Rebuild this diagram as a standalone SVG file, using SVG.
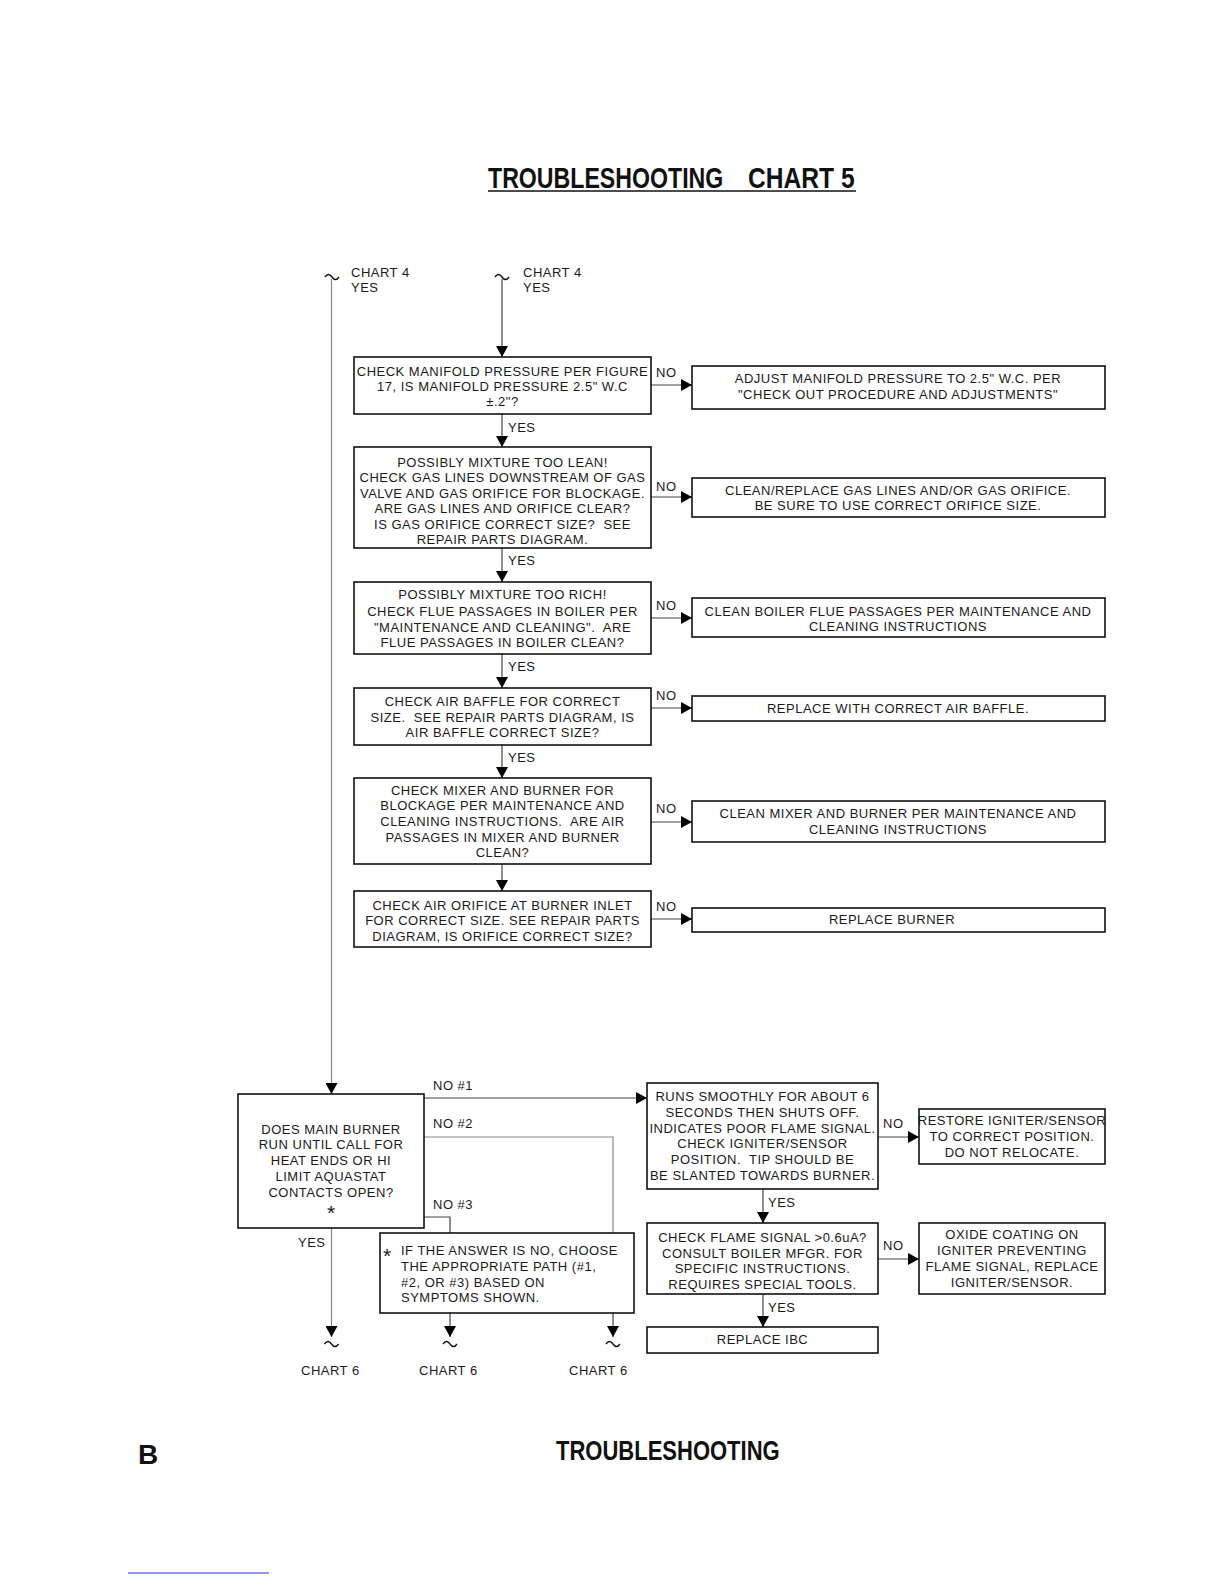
<svg xmlns="http://www.w3.org/2000/svg" width="1224" height="1584" viewBox="0 0 1224 1584">
<style>
text{white-space:pre}
.t{font-family:"Liberation Sans",Arial,sans-serif;font-size:13px;letter-spacing:0.5px;fill:#1a1a1a}
.c{text-anchor:middle}
.ast{font-size:21px;letter-spacing:0}
.box{fill:#fff;stroke:#111;stroke-width:1.6}
.ln{fill:none;stroke:#444;stroke-width:1.2}
.lg{fill:none;stroke:#888;stroke-width:1.2}
.til{fill:none;stroke:#111;stroke-width:1.4}
.hd{font-family:"Liberation Sans",Arial,sans-serif;font-weight:bold;fill:#111}
</style>
<defs>
<marker id="ah" viewBox="0 0 11 12" refX="11" refY="6" markerWidth="11" markerHeight="12" markerUnits="userSpaceOnUse" orient="auto">
<path d="M0,0 L11,6 L0,12 z" fill="#000"/>
</marker>
</defs>
<rect width="1224" height="1584" fill="#fff"/>

<g id="title">
<text class="hd" transform="translate(488,188) scale(0.772,1)" x="0" y="0" font-size="30">TROUBLESHOOTING</text>
<text class="hd" transform="translate(748,188) scale(0.82,1)" x="0" y="0" font-size="30">CHART 5</text>
<line x1="488" y1="191" x2="856" y2="191" stroke="#111" stroke-width="1.5"/>
</g>

<g id="connectors">
<path class="til" d="M325,277 q3.5,-5 7,0 t7,0"/>
<path class="til" d="M495,277 q3.5,-5 7,0 t7,0"/>
<line class="lg" x1="331.5" y1="279" x2="331.5" y2="1094" marker-end="url(#ah)"/>
<line class="ln" x1="502" y1="279" x2="502" y2="357" marker-end="url(#ah)"/>
<line class="ln" x1="502" y1="414" x2="502" y2="447" marker-end="url(#ah)"/>
<line class="ln" x1="502" y1="548" x2="502" y2="582" marker-end="url(#ah)"/>
<line class="ln" x1="502" y1="654" x2="502" y2="688" marker-end="url(#ah)"/>
<line class="ln" x1="502" y1="745" x2="502" y2="778" marker-end="url(#ah)"/>
<line class="ln" x1="502" y1="864" x2="502" y2="891" marker-end="url(#ah)"/>
<line class="ln" x1="651" y1="385" x2="692" y2="385" marker-end="url(#ah)"/>
<line class="ln" x1="651" y1="497" x2="692" y2="497" marker-end="url(#ah)"/>
<line class="ln" x1="651" y1="618" x2="692" y2="618" marker-end="url(#ah)"/>
<line class="ln" x1="651" y1="708" x2="692" y2="708" marker-end="url(#ah)"/>
<line class="ln" x1="651" y1="822" x2="692" y2="822" marker-end="url(#ah)"/>
<line class="ln" x1="651" y1="919" x2="692" y2="919" marker-end="url(#ah)"/>
<line class="ln" x1="424" y1="1098" x2="647" y2="1098" marker-end="url(#ah)"/>
<polyline class="lg" points="424,1137 613,1137 613,1233"/>
<polyline class="ln" points="424,1217 450,1217 450,1233"/>
<line class="lg" x1="331.5" y1="1228" x2="331.5" y2="1337" marker-end="url(#ah)"/>
<line class="ln" x1="450" y1="1313" x2="450" y2="1337" marker-end="url(#ah)"/>
<line class="ln" x1="613" y1="1313" x2="613" y2="1337" marker-end="url(#ah)"/>
<path class="til" d="M324.5,1344 q3.5,-5 7,0 t7,0"/>
<path class="til" d="M443,1344 q3.5,-5 7,0 t7,0"/>
<path class="til" d="M606,1344 q3.5,-5 7,0 t7,0"/>
<line class="ln" x1="763" y1="1189" x2="763" y2="1223" marker-end="url(#ah)"/>
<line class="ln" x1="763" y1="1294" x2="763" y2="1327" marker-end="url(#ah)"/>
<line class="ln" x1="878" y1="1137" x2="919" y2="1137" marker-end="url(#ah)"/>
<line class="ln" x1="878" y1="1259" x2="919" y2="1259" marker-end="url(#ah)"/>
</g>

<g id="labels">
<text class="t" x="351" y="277">CHART 4</text>
<text class="t" x="351" y="292">YES</text>
<text class="t" x="523" y="277">CHART 4</text>
<text class="t" x="523" y="292">YES</text>
<text class="t" x="508" y="432">YES</text>
<text class="t" x="508" y="565">YES</text>
<text class="t" x="508" y="671">YES</text>
<text class="t" x="508" y="762">YES</text>
<text class="t" x="656" y="377">NO</text>
<text class="t" x="656" y="491">NO</text>
<text class="t" x="656" y="610">NO</text>
<text class="t" x="656" y="700">NO</text>
<text class="t" x="656" y="813">NO</text>
<text class="t" x="656" y="911">NO</text>
<text class="t" x="433" y="1090">NO #1</text>
<text class="t" x="433" y="1128">NO #2</text>
<text class="t" x="433" y="1209">NO #3</text>
<text class="t" x="298" y="1247">YES</text>
<text class="t" x="883" y="1128">NO</text>
<text class="t" x="883" y="1250">NO</text>
<text class="t" x="768" y="1207">YES</text>
<text class="t" x="768" y="1312">YES</text>
<text class="t" x="301" y="1375">CHART 6</text>
<text class="t" x="419" y="1375">CHART 6</text>
<text class="t" x="569" y="1375">CHART 6</text>
</g>

<g id="q1">
<rect class="box" x="354" y="357" width="297" height="57"/>
<text class="t c" x="502.5" y="376">CHECK MANIFOLD PRESSURE PER FIGURE</text>
<text class="t c" x="502.5" y="391">17, IS MANIFOLD PRESSURE 2.5" W.C</text>
<text class="t c" x="502.5" y="406">±.2"?</text>
</g>
<g id="a1">
<rect class="box" x="692" y="366" width="413" height="43"/>
<text class="t c" x="898" y="383">ADJUST MANIFOLD PRESSURE TO 2.5" W.C. PER</text>
<text class="t c" x="898" y="399">"CHECK OUT PROCEDURE AND ADJUSTMENTS"</text>
</g>

<g id="q2">
<rect class="box" x="354" y="447" width="297" height="101"/>
<text class="t c" x="502.5" y="467">POSSIBLY MIXTURE TOO LEAN!</text>
<text class="t c" x="502.5" y="482">CHECK GAS LINES DOWNSTREAM OF GAS</text>
<text class="t c" x="502.5" y="498">VALVE AND GAS ORIFICE FOR BLOCKAGE.</text>
<text class="t c" x="502.5" y="513">ARE GAS LINES AND ORIFICE CLEAR?</text>
<text class="t c" x="502.5" y="529">IS GAS ORIFICE CORRECT SIZE?  SEE</text>
<text class="t c" x="502.5" y="544">REPAIR PARTS DIAGRAM.</text>
</g>
<g id="a2">
<rect class="box" x="692" y="478" width="413" height="39"/>
<text class="t c" x="898" y="495">CLEAN/REPLACE GAS LINES AND/OR GAS ORIFICE.</text>
<text class="t c" x="898" y="510">BE SURE TO USE CORRECT ORIFICE SIZE.</text>
</g>

<g id="q3">
<rect class="box" x="354" y="582" width="297" height="72"/>
<text class="t c" x="502.5" y="599">POSSIBLY MIXTURE TOO RICH!</text>
<text class="t c" x="502.5" y="616">CHECK FLUE PASSAGES IN BOILER PER</text>
<text class="t c" x="502.5" y="632">"MAINTENANCE AND CLEANING".  ARE</text>
<text class="t c" x="502.5" y="647">FLUE PASSAGES IN BOILER CLEAN?</text>
</g>
<g id="a3">
<rect class="box" x="692" y="598" width="413" height="39"/>
<text class="t c" x="898" y="616">CLEAN BOILER FLUE PASSAGES PER MAINTENANCE AND</text>
<text class="t c" x="898" y="631">CLEANING INSTRUCTIONS</text>
</g>

<g id="q4">
<rect class="box" x="354" y="688" width="297" height="57"/>
<text class="t c" x="502.5" y="706">CHECK AIR BAFFLE FOR CORRECT</text>
<text class="t c" x="502.5" y="722">SIZE.  SEE REPAIR PARTS DIAGRAM, IS</text>
<text class="t c" x="502.5" y="737">AIR BAFFLE CORRECT SIZE?</text>
</g>
<g id="a4">
<rect class="box" x="692" y="696" width="413" height="25"/>
<text class="t c" x="898" y="713">REPLACE WITH CORRECT AIR BAFFLE.</text>
</g>

<g id="q5">
<rect class="box" x="354" y="778" width="297" height="86"/>
<text class="t c" x="502.5" y="795">CHECK MIXER AND BURNER FOR</text>
<text class="t c" x="502.5" y="810">BLOCKAGE PER MAINTENANCE AND</text>
<text class="t c" x="502.5" y="826">CLEANING INSTRUCTIONS.  ARE AIR</text>
<text class="t c" x="502.5" y="842">PASSAGES IN MIXER AND BURNER</text>
<text class="t c" x="502.5" y="857">CLEAN?</text>
</g>
<g id="a5">
<rect class="box" x="692" y="801" width="413" height="41"/>
<text class="t c" x="898" y="818">CLEAN MIXER AND BURNER PER MAINTENANCE AND</text>
<text class="t c" x="898" y="834">CLEANING INSTRUCTIONS</text>
</g>

<g id="q6">
<rect class="box" x="354" y="891" width="297" height="56"/>
<text class="t c" x="502.5" y="910">CHECK AIR ORIFICE AT BURNER INLET</text>
<text class="t c" x="502.5" y="925">FOR CORRECT SIZE. SEE REPAIR PARTS</text>
<text class="t c" x="502.5" y="941">DIAGRAM, IS ORIFICE CORRECT SIZE?</text>
</g>
<g id="a6">
<rect class="box" x="692" y="908" width="413" height="24"/>
<text class="t c" x="892" y="924">REPLACE BURNER</text>
</g>

<g id="main">
<rect class="box" x="238" y="1094" width="186" height="134"/>
<text class="t c" x="331" y="1134">DOES MAIN BURNER</text>
<text class="t c" x="331" y="1149">RUN UNTIL CALL FOR</text>
<text class="t c" x="331" y="1165">HEAT ENDS OR HI</text>
<text class="t c" x="331" y="1181">LIMIT AQUASTAT</text>
<text class="t c" x="331" y="1197">CONTACTS OPEN?</text>
<text class="t c ast" x="331" y="1220">*</text>
</g>

<g id="note">
<rect class="box" x="380" y="1233" width="254" height="80"/>
<text class="t ast" x="383" y="1263">*</text>
<text class="t" x="401" y="1255">IF THE ANSWER IS NO, CHOOSE</text>
<text class="t" x="401" y="1271">THE APPROPRIATE PATH (#1,</text>
<text class="t" x="401" y="1287">#2, OR #3) BASED ON</text>
<text class="t" x="401" y="1302">SYMPTOMS SHOWN.</text>
</g>

<g id="r1">
<rect class="box" x="647" y="1083" width="231" height="106"/>
<text class="t c" x="762.5" y="1101">RUNS SMOOTHLY FOR ABOUT 6</text>
<text class="t c" x="762.5" y="1117">SECONDS THEN SHUTS OFF.</text>
<text class="t c" x="762.5" y="1133">INDICATES POOR FLAME SIGNAL.</text>
<text class="t c" x="762.5" y="1148">CHECK IGNITER/SENSOR</text>
<text class="t c" x="762.5" y="1164">POSITION.  TIP SHOULD BE</text>
<text class="t c" x="762.5" y="1180">BE SLANTED TOWARDS BURNER.</text>
</g>
<g id="r1b">
<rect class="box" x="919" y="1109" width="186" height="55"/>
<text class="t c" x="1012" y="1125">RESTORE IGNITER/SENSOR</text>
<text class="t c" x="1012" y="1141">TO CORRECT POSITION.</text>
<text class="t c" x="1012" y="1157">DO NOT RELOCATE.</text>
</g>
<g id="r2">
<rect class="box" x="647" y="1223" width="231" height="71"/>
<text class="t c" x="762.5" y="1242">CHECK FLAME SIGNAL &gt;0.6uA?</text>
<text class="t c" x="762.5" y="1258">CONSULT BOILER MFGR. FOR</text>
<text class="t c" x="762.5" y="1273">SPECIFIC INSTRUCTIONS.</text>
<text class="t c" x="762.5" y="1289">REQUIRES SPECIAL TOOLS.</text>
</g>
<g id="r2b">
<rect class="box" x="919" y="1223" width="186" height="71"/>
<text class="t c" x="1012" y="1239">OXIDE COATING ON</text>
<text class="t c" x="1012" y="1255">IGNITER PREVENTING</text>
<text class="t c" x="1012" y="1271">FLAME SIGNAL, REPLACE</text>
<text class="t c" x="1012" y="1287">IGNITER/SENSOR.</text>
</g>
<g id="r3">
<rect class="box" x="647" y="1327" width="231" height="26"/>
<text class="t c" x="762.5" y="1344">REPLACE IBC</text>
</g>

<g id="footer">
<text class="hd" x="138" y="1464" font-size="28">B</text>
<text class="hd" transform="translate(556,1460) scale(0.786,1)" x="0" y="0" font-size="28">TROUBLESHOOTING</text>
<line x1="128" y1="1573" x2="269" y2="1573" stroke="#2a2aff" stroke-width="1.2"/>
</g>
</svg>
